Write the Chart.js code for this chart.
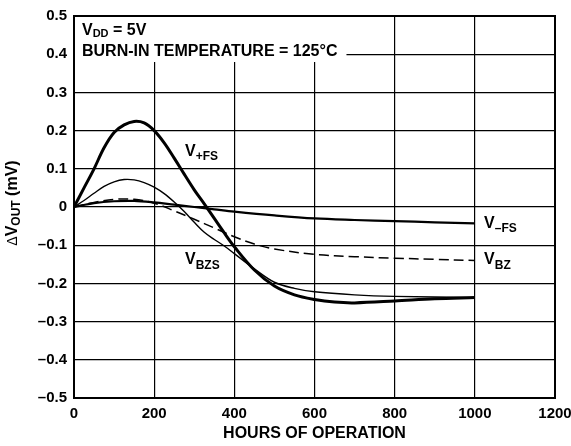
<!DOCTYPE html>
<html>
<head>
<meta charset="utf-8">
<script src="https://cdn.jsdelivr.net/npm/chart.js@4.4.1/dist/chart.umd.min.js"></script>
<style>
  html, body { margin: 0; padding: 0; background: #fff; }
  #wrap { width: 571px; height: 446px; }
</style>
</head>
<body>
<div id="wrap"><canvas id="chartDrift" width="571" height="446"></canvas></div>
<script>
// Axis ranges
const hourMin = 0;
const hourMax = 1200;
const hourStep = 200;
const voutMin = -0.5;
const voutMax = 0.5;
const voutStep = 0.1;

// V+FS (thick)
const posFsHours  = [0, 25, 50, 75, 100, 125, 150, 175, 200, 225, 250, 275, 300, 325, 350, 375, 400, 450, 500, 550, 600, 650, 700, 800, 900, 1000];
const posFsValues = [0, 0.05, 0.1, 0.155, 0.195, 0.215, 0.224, 0.22, 0.2, 0.168, 0.128, 0.086, 0.045, 0.008, -0.03, -0.068, -0.104, -0.165, -0.207, -0.23, -0.242, -0.249, -0.251, -0.246, -0.24, -0.237];

// V-FS (medium)
const negFsHours  = [0, 50, 100, 150, 200, 250, 300, 350, 400, 500, 600, 700, 800, 900, 1000];
const negFsValues = [0, 0.01, 0.015, 0.016, 0.012, 0.006, 0, -0.006, -0.012, -0.022, -0.03, -0.034, -0.037, -0.04, -0.043];

// VBZS (thin)
const bzsHours  = [0, 25, 50, 75, 100, 125, 150, 175, 200, 225, 250, 275, 300, 325, 350, 375, 400, 450, 500, 550, 600, 700, 800, 1000];
const bzsValues = [0, 0.017, 0.036, 0.054, 0.066, 0.072, 0.071, 0.064, 0.052, 0.035, 0.013, -0.012, -0.04, -0.066, -0.085, -0.102, -0.122, -0.162, -0.197, -0.213, -0.222, -0.23, -0.234, -0.237];

// VBZ (dashed)
const bzHours  = [0, 50, 100, 150, 200, 250, 300, 350, 400, 450, 500, 600, 700, 800, 900, 1000];
const bzValues = [0, 0.012, 0.02, 0.02, 0.01, -0.01, -0.032, -0.055, -0.078, -0.097, -0.11, -0.124, -0.13, -0.134, -0.137, -0.14];

const fontFamily = '"Liberation Sans", Arial, Helvetica, sans-serif';

function toPoints(xs, ys) {
  return xs.map((x, i) => ({ x: x, y: ys[i] }));
}

// Draws "V" + subscript (+ optional tail text), returns end x
function drawSubText(ctx, x, y, main, sub, tail, size, subSize, drop) {
  ctx.font = 'bold ' + size + 'px ' + fontFamily;
  ctx.fillText(main, x, y);
  x += ctx.measureText(main).width;
  ctx.font = 'bold ' + subSize + 'px ' + fontFamily;
  ctx.fillText(sub, x, y + drop);
  x += ctx.measureText(sub).width;
  if (tail) {
    ctx.font = 'bold ' + size + 'px ' + fontFamily;
    ctx.fillText(tail, x, y);
    x += ctx.measureText(tail).width;
  }
  return x;
}

// Text box over the grid + curve labels + axis titles
const annotations = {
  id: 'annotations',
  beforeDatasetsDraw(chart) {
    const ctx = chart.ctx;
    const area = chart.chartArea;
    ctx.save();
    ctx.font = 'bold 16px ' + fontFamily;
    const line2 = 'BURN-IN TEMPERATURE = 125°C';
    const textX = area.left + 8;
    const boxRight = textX + ctx.measureText(line2).width + 9;
    ctx.fillStyle = '#fff';
    ctx.fillRect(area.left + 1, area.top + 1, boxRight - area.left - 1, 45);
    ctx.fillStyle = '#000';
    ctx.textBaseline = 'alphabetic';
    drawSubText(ctx, textX, area.top + 18.5, 'V', 'DD', ' = 5V', 16, 11, 2.5);
    ctx.font = 'bold 16px ' + fontFamily;
    ctx.fillText(line2, textX, area.top + 39.5);
    ctx.restore();
  },
  afterDraw(chart) {
    const ctx = chart.ctx;
    const area = chart.chartArea;
    const xs = chart.scales.x;
    const ys = chart.scales.y;
    ctx.save();
    // frame
    ctx.strokeStyle = '#000';
    ctx.lineWidth = 2;
    ctx.strokeRect(area.left, area.top, area.right - area.left, area.bottom - area.top);

    ctx.fillStyle = '#000';
    ctx.textBaseline = 'alphabetic';
    drawSubText(ctx, xs.getPixelForValue(277), ys.getPixelForValue(0.134), 'V', '+FS', '', 16, 12, 4.5);
    drawSubText(ctx, xs.getPixelForValue(277), ys.getPixelForValue(-0.15), 'V', 'BZS', '', 16, 12, 4.5);
    drawSubText(ctx, xs.getPixelForValue(1023), ys.getPixelForValue(-0.054), 'V', '\u2013FS', '', 16, 12, 4.5);
    drawSubText(ctx, xs.getPixelForValue(1023), ys.getPixelForValue(-0.15), 'V', 'BZ', '', 16, 12, 4.5);

    // x title
    ctx.font = 'bold 16px ' + fontFamily;
    ctx.textAlign = 'center';
    ctx.fillText('HOURS OF OPERATION', (area.left + area.right) / 2, 438);

    // y title (rotated)
    ctx.textAlign = 'left';
    ctx.translate(16.5, (area.top + area.bottom) / 2 - 4);
    ctx.rotate(-Math.PI / 2);
    ctx.font = '14px ' + fontFamily;
    const wDelta = ctx.measureText('\u0394').width;
    ctx.font = 'bold 16px ' + fontFamily;
    const wV = ctx.measureText('V').width;
    const wTail = ctx.measureText(' (mV)').width;
    ctx.font = 'bold 12px ' + fontFamily;
    const wOut = ctx.measureText('OUT').width;
    let u = -(wDelta + wV + wOut + wTail) / 2;
    ctx.font = '14px ' + fontFamily;
    ctx.fillText('\u0394', u, 0);
    u += wDelta;
    drawSubText(ctx, u, 0, 'V', 'OUT', ' (mV)', 16, 12, 3);
    ctx.restore();
  }
};

function makeSet(label, xs, ys, width, dash) {
  return {
    label: label,
    data: toPoints(xs, ys),
    borderColor: '#000',
    borderWidth: width,
    borderDash: dash || [],
    pointRadius: 0,
    fill: false,
    tension: 0.35
  };
}

const ctx = document.getElementById('chartDrift').getContext('2d');
new Chart(ctx, {
  type: 'line',
  data: {
    datasets: [
      makeSet('V+FS', posFsHours, posFsValues, 3),
      makeSet('VBZS', bzsHours, bzsValues, 1.4),
      makeSet('V-FS', negFsHours, negFsValues, 2.2),
      makeSet('VBZ', bzHours, bzValues, 1.5, [10, 5])
    ]
  },
  options: {
    responsive: false,
    animation: false,
    events: [],
    layout: { padding: { top: 15, right: 16, left: 0, bottom: 0 } },
    plugins: { legend: { display: false }, tooltip: { enabled: false } },
    scales: {
      x: {
        type: 'linear',
        min: hourMin,
        max: hourMax,
        afterFit(scale) {
          scale.height = 48;
          scale.paddingLeft = 0;
          scale.paddingRight = 0;
        },
        grid: { color: '#000', lineWidth: 1.2, drawTicks: false },
        border: { display: false },
        ticks: {
          stepSize: hourStep,
          padding: 7,
          color: '#000',
          maxRotation: 0,
          font: { family: fontFamily, size: 15, weight: 'bold' },
          callback: v => String(v)
        }
      },
      y: {
        type: 'linear',
        min: voutMin,
        max: voutMax,
        afterFit(scale) { scale.width = 74; },
        grid: { color: '#000', lineWidth: 1.2, drawTicks: false },
        border: { display: false },
        ticks: {
          stepSize: voutStep,
          padding: 7,
          color: '#000',
          font: { family: fontFamily, size: 15, weight: 'bold' },
          callback: v => {
            const r = Math.round(v * 10) / 10;
            if (r === 0) return '0';
            return r.toFixed(1).replace('-', '\u2013');
          }
        }
      }
    }
  },
  plugins: [annotations]
});
</script>
</body>
</html>
